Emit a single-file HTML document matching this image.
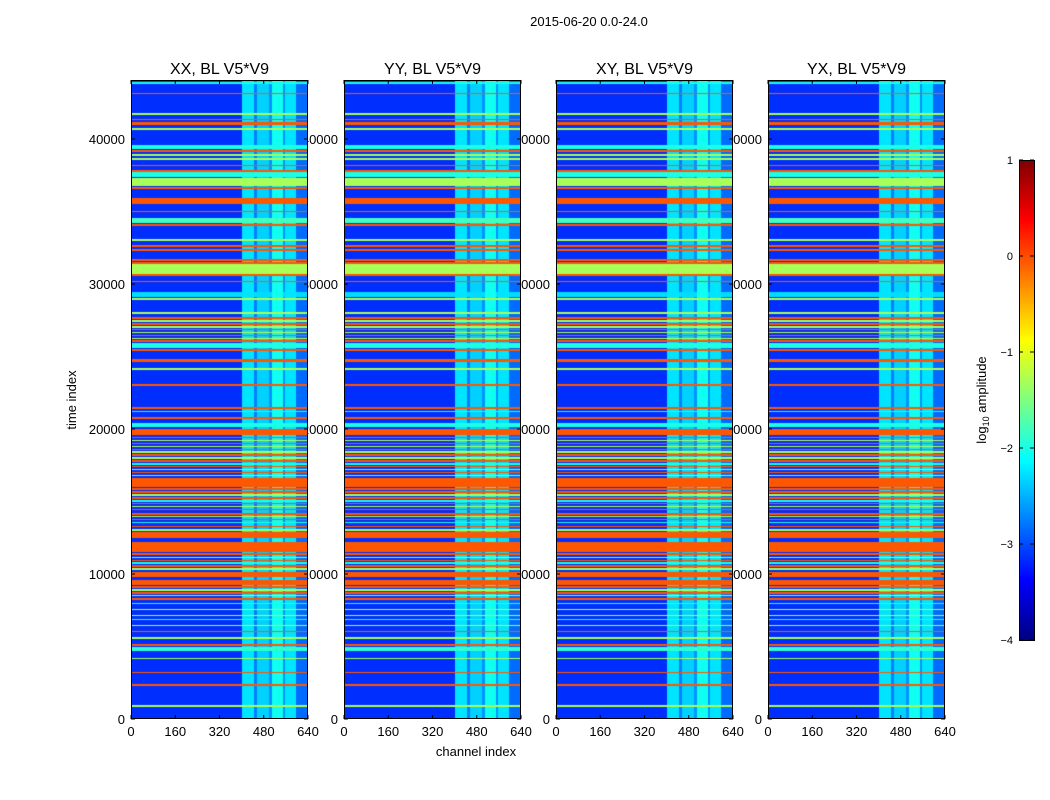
<!DOCTYPE html>
<html><head><meta charset="utf-8"><style>
body{margin:0;background:#fff;width:1050px;height:800px;overflow:hidden;position:relative;font-family:"Liberation Sans",sans-serif}
svg{position:absolute;left:0;top:0}
canvas{position:absolute}
</style></head><body>
<svg id="under" width="1050" height="800" style="z-index:1"></svg>
<div id="plots" style="position:absolute;left:0;top:0;z-index:2"></div>
<svg id="over" width="1050" height="800" style="z-index:3"></svg>
<script>
const channelStart=[400,445,455,500,510,548,556,597];
const channelEnd=[445,455,500,510,548,556,597,640];
const channelLevel=[-2.25,-2.75,-2.35,-2.65,-2.05,-2.65,-2.25,-2.85];
const baseLevel=-3.15;
const O=-0.05,G=-1.3,C=-2.0,Y=-1.3;
const rowStart=[850,2290,3150,4130,4710,5050,5540,6000,6400,6800,7100,7500,7900,8210,8450,8600,8850,9050,9240,9820,10300,10500,10700,10900,11100,11300,11540,12480,13000,13240,13500,13700,13900,14100,14410,14600,14800,15000,15200,15400,15600,15800,16000,16750,16950,17150,17350,17550,17750,17950,18150,18350,18550,18750,18950,19150,19350,19590,20140,20710,21150,21400,22950,24100,24600,25400,25590,26020,26200,26400,26600,26800,27000,27200,27400,27600,27950,28920,29130,30120,30570,30670,31400,31610,32300,32570,32980,34020,34210,34950,35540,35670,35810,36550,36780,37380,37750,38110,38570,38850,39120,39310,40640,40960,41310,41670,43100,43800];
const rowEnd=[950,2390,3250,4230,4990,5150,5640,6100,6500,6900,7200,7600,8000,8350,8550,8750,8950,9170,9590,10160,10400,10600,10800,11000,11200,11450,12230,12900,13100,13340,13600,13800,14000,14200,14510,14700,14900,15100,15300,15500,15700,15900,16620,16850,17050,17250,17450,17650,17850,18050,18250,18450,18650,18850,19050,19250,19450,20000,20410,20810,21250,21500,23080,24200,24800,25500,25930,26120,26300,26500,26700,26900,27100,27300,27500,27700,28050,29020,29470,30220,30670,31400,31500,31710,32420,32670,33080,34120,34550,35050,35640,35770,35910,36710,37310,37720,37860,38210,38670,38950,39220,39590,40740,41190,41410,41770,43200,43950];
const rowLevel=[G,O,O,G,-1.9,O,G,O,G,C,G,G,C,O,G,O,G,O,O,O,G,O,C,O,G,O,O,O,G,O,C,O,G,O,O,G,O,C,O,G,O,O,O,G,O,G,O,C,O,G,O,G,O,G,O,G,O,O,C,O,C,O,O,G,O,O,C,O,G,O,G,O,G,O,G,O,G,G,-2.3,O,O,Y,O,O,O,O,G,O,-1.8,O,O,O,O,O,Y,C,O,O,G,G,O,C,G,O,O,G,O,C];
const titles=["XX, BL V5*V9","YY, BL V5*V9","XY, BL V5*V9","YX, BL V5*V9"];
const xTicks=[0,160,320,480,640];
const yTicks=[0,10000,20000,30000,40000];
const cbTicks=[1,0,-1,-2,-3,-4];
const panelX=[131,344,556,768], topY=80, H=639, W=177;
const yPx=v=>topY+H-v*0.0145;
const xPx=(c,px)=>px+c*W/640;
const cbY=v=>640-(v+4)*96;
function jet(v){let q=Math.max(0,Math.min(1,(v+4)/5));const c=x=>Math.round(255*Math.max(0,Math.min(1,x)));return [c(1.5-Math.abs(4*q-3)),c(1.5-Math.abs(4*q-2)),c(1.5-Math.abs(4*q-1))];}
const NS="http://www.w3.org/2000/svg";
function mk(par,tag,attrs,txt){const e=document.createElementNS(NS,tag);for(const k in attrs)e.setAttribute(k,attrs[k]);if(txt!==undefined)e.textContent=txt;par.appendChild(e);return e;}
const underL=document.getElementById('under'),overL=document.getElementById('over'),plotsL=document.getElementById('plots');
let tx=mk(underL,'text',{x:589,y:26,'text-anchor':'middle','font-size':13},'2015-06-20 0.0-24.0');


tx=mk(underL,'text',{x:76,y:400,'text-anchor':'middle','font-size':13,transform:'rotate(-90 76 400)'},'time index');


tx=mk(underL,'text',{x:476,y:756,'text-anchor':'middle','font-size':13},'channel index');


function colVal(ch){let v=baseLevel;for(let i=0;i<channelStart.length;i++)if(ch>=channelStart[i]&&ch<channelEnd[i])v=Math.max(v,channelLevel[i]);return v;}
function rowVal(tm){let v=-99;for(let i=0;i<rowStart.length;i++)if(tm>=rowStart[i]&&tm<rowEnd[i])v=Math.max(v,rowLevel[i]);return v;}
panelX.forEach((px,p)=>{
  const cv=document.createElement('canvas');cv.width=W;cv.height=H;cv.style.left=px+'px';cv.style.top=topY+'px';
  
  
  plotsL.appendChild(cv);
  const ctx=cv.getContext('2d'),img=ctx.createImageData(W,H);
  const cols=[];for(let x=0;x<W;x++)cols.push(colVal((x+0.5)*640/W));
  for(let y=0;y<H;y++){const tm=(H-y-0.5)/0.0145;const r=rowVal(tm);
    for(let x=0;x<W;x++){const v=Math.max(r,cols[x]);const c=jet(v);const k=(y*W+x)*4;img.data[k]=c[0];img.data[k+1]=c[1];img.data[k+2]=c[2];img.data[k+3]=255;}}
  ctx.putImageData(img,0,0);
  let e=mk(underL,'text',{x:px+W/2,y:74,'text-anchor':'middle','font-size':16},titles[p]);
  
  
  e=mk(overL,'rect',{x:px+0.5,y:topY+0.5,width:W-1,height:H-1,fill:'none',stroke:'#000'});
  
  
  xTicks.forEach(v=>{const x=xPx(v,px);
    mk(overL,'line',{x1:x,x2:x,y1:topY+H,y2:topY+H-4,stroke:'#000'});
    mk(overL,'line',{x1:x,x2:x,y1:topY,y2:topY+4,stroke:'#000'});
    const l=mk(underL,'text',{x:x,y:736,'text-anchor':'middle','font-size':13},String(v));
    
    });
  yTicks.forEach(v=>{const y=yPx(v);
    mk(overL,'line',{x1:px,x2:px+4,y1:y,y2:y,stroke:'#000'});
    mk(overL,'line',{x1:px+W-4,x2:px+W,y1:y,y2:y,stroke:'#000'});
    const l=mk(underL,'text',{x:px-6,y:y+5,'text-anchor':'end','font-size':13},String(v));
    
    });
});
const cb=document.createElement('canvas');cb.width=15;cb.height=480;cb.style.left='1019px';cb.style.top='160px';


plotsL.appendChild(cb);
const cc=cb.getContext('2d');for(let y=0;y<480;y++){const c=jet(1-(y+0.5)/96);cc.fillStyle=`rgb(${c[0]},${c[1]},${c[2]})`;cc.fillRect(0,y,15,1);}
mk(overL,'rect',{x:1019.5,y:160.5,width:15,height:480,fill:'none',stroke:'#000'});
cbTicks.forEach(v=>{const y=cbY(v);
  mk(overL,'line',{x1:1019,x2:1023,y1:y,y2:y,stroke:'#000'});
  mk(overL,'line',{x1:1030,x2:1034,y1:y,y2:y,stroke:'#000'});
  const l=mk(underL,'text',{x:1013,y:y+4,'text-anchor':'end','font-size':11},v<0?'\u2212'+(-v):String(v));
  
  });
tx=mk(underL,'text',{x:986,y:400,'text-anchor':'middle','font-size':13,transform:'rotate(-90 986 400)'});
mk(tx,'tspan',{},'log');
mk(tx,'tspan',{'font-size':9,dy:3},'10');
mk(tx,'tspan',{dy:-3},' amplitude');


</script>
</body></html>
